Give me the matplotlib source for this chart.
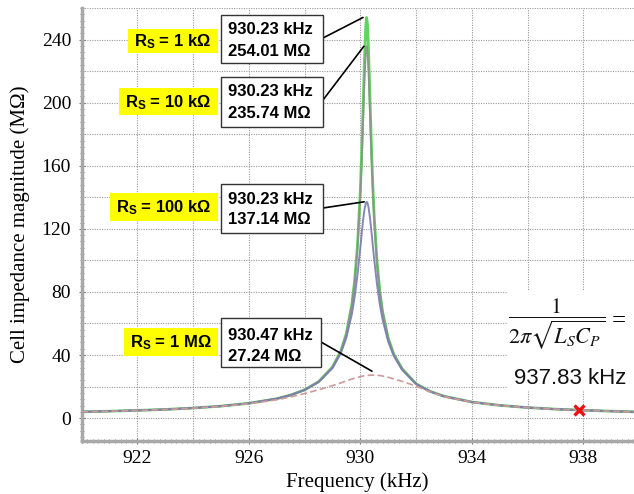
import matplotlib
matplotlib.use("Agg")
import matplotlib.pyplot as plt
from matplotlib.patches import Rectangle
from matplotlib.ticker import MultipleLocator

# ---------------- data ----------------
freq_khz = [920, 921, 922, 923, 924, 925, 926, 927, 927.5, 928, 928.5, 929, 929.3, 929.5,
            929.7, 929.8, 929.9, 930.0, 930.05, 930.1, 930.15, 930.2, 930.23, 930.26, 930.3,
            930.35, 930.4, 930.45, 930.5, 930.6, 930.7, 930.8, 931.0, 931.2, 931.5, 932,
            932.5, 933, 934, 935, 936, 937, 938, 939, 940]

z_rs_1k = [4.0, 4.4, 4.9, 5.5, 6.4, 7.6, 9.4, 12.3, 14.6, 17.9, 23.0, 32.3, 42.4, 53.6,
           72.3, 87.4, 109.4, 143.5, 167.2, 195.9, 226.5, 249.5, 254.01, 249.5, 232.1,
           202.0, 172.6, 147.8, 128.0, 99.5, 80.7, 67.6, 50.9, 40.7, 31.3, 21.8,
           17.0, 13.9, 10.2, 8.1, 6.7, 5.7, 5.0, 4.4, 3.9]

z_rs_10k = [4.0, 4.4, 4.9, 5.5, 6.4, 7.6, 9.4, 12.3, 14.6, 17.9, 23.0, 32.2, 42.3, 53.4,
            71.9, 86.5, 107.8, 140.0, 161.7, 187.1, 213.2, 232.1, 235.74, 232.1, 217.9,
            192.5, 166.5, 144.0, 125.4, 98.3, 80.0, 67.3, 50.7, 40.6, 31.2, 21.8,
            17.0, 13.9, 10.2, 8.1, 6.7, 5.7, 5.0, 4.4, 3.9]

z_rs_100k = [4.0, 4.4, 4.9, 5.5, 6.4, 7.6, 9.4, 12.3, 14.6, 17.8, 22.8, 31.6, 41.0, 50.9,
             66.1, 77.0, 90.8, 107.7, 116.7, 125.2, 132.2, 136.4, 137.14, 136.4, 133.3,
             126.8, 118.5, 109.5, 100.6, 84.9, 72.3, 62.5, 48.6, 39.5, 30.7, 21.6,
             16.9, 13.8, 10.2, 8.1, 6.7, 5.7, 5.0, 4.4, 3.9]

z_rs_1M = [3.95, 4.35, 4.85, 5.45, 6.3, 7.45, 9.1, 11.6, 13.4, 15.6, 17.9, 20.6, 22.3, 23.6,
           24.8, 25.3, 25.8, 26.3, 26.5, 26.7, 26.85, 27.0, 27.05, 27.1, 27.15,
           27.2, 27.23, 27.24, 27.23, 27.15, 27.0, 26.7, 25.9, 24.9, 23.3, 20.3,
           16.6, 13.6, 10.1, 8.05, 6.65, 5.65, 4.95, 4.35, 3.85]

series_labels = ["1 kΩ", "10 kΩ", "100 kΩ", "1 MΩ"]
peak_freq = [930.23, 930.23, 930.23, 930.47]
peak_z = [254.01, 235.74, 137.14, 27.24]

marker_f = 937.83
marker_z = 5.0

x_ticks = [922, 926, 930, 934, 938]
y_ticks = [0, 40, 80, 120, 160, 200, 240]

# ---------------- figure ----------------
W, H = 634, 494
fig = plt.figure(figsize=(W / 100, H / 100), dpi=100)
ax_l, ax_r, ax_t, ax_b = 81.5, 634, 8, 441
ax = fig.add_axes([ax_l / W, 1 - ax_b / H, (ax_r - ax_l) / W, (ax_b - ax_t) / H])

def fx(x):
    return x / W

def fy(y):
    return 1 - y / H

ax.set_xlim(920, 939.82)
ax.set_ylim(-14.5, 260)

# grid (dotted)
grid_kw = dict(color="#9a9a9a", lw=0.8, ls=(0, (1, 1.2)), zorder=0)
for gx in range(922, 941, 2):
    ax.axvline(gx, **grid_kw)
for gy in range(0, 261, 20):
    ax.axhline(gy, **grid_kw)

# curves
ax.plot(freq_khz, z_rs_1k, color="#5fd45f", lw=2.0, zorder=3)
ax.plot(freq_khz, z_rs_10k, color="#8f8f8f", lw=1.3, alpha=0.9, zorder=4)
ax.plot(freq_khz, z_rs_100k, color="#7b7bb0", lw=1.4, alpha=0.9, zorder=5)
ax.plot(freq_khz, z_rs_1M, color="#d09a9a", lw=1.2, ls=(0, (4, 2)), zorder=6)

# red x marker
ax.plot([marker_f], [marker_z], marker="x", color="#ee1111", ms=7, mew=2.4, ls="none", zorder=8)

# axes style
for s in ["top", "right"]:
    ax.spines[s].set_visible(False)
for s in ["left", "bottom"]:
    ax.spines[s].set_color("#a8a8a8")
    ax.spines[s].set_linewidth(2.5)

ax.set_xticks(x_ticks)
ax.set_yticks(y_ticks)
ax.xaxis.set_minor_locator(MultipleLocator(0.2))
ax.yaxis.set_minor_locator(MultipleLocator(4))
ax.tick_params(axis="both", which="major", direction="inout", length=5, width=0.8,
               color="#777777", labelsize=14)
ax.tick_params(axis="both", which="minor", direction="inout", length=3, width=0.6,
               color="#777777")
ax.tick_params(axis="x", which="major", pad=4)
ax.tick_params(axis="y", which="major", pad=5)
for lab in ax.get_xticklabels() + ax.get_yticklabels():
    lab.set_family("Liberation Serif")

ax.set_xlabel("Frequency (kHz)", family="Liberation Serif", fontsize=15, labelpad=4)
ax.set_ylabel("Cell impedance magnitude (MΩ)", family="Liberation Serif", fontsize=15, labelpad=8)

# ---------------- annotation boxes ----------------
plt.rcParams["mathtext.fontset"] = "custom"
plt.rcParams["mathtext.rm"] = "Liberation Sans"
plt.rcParams["mathtext.bf"] = "Liberation Sans:bold"

boxes = [
    dict(yb=(128, 29, 218, 53), wb=(221, 15, 323, 63), ty=(30, 51), ls=(323, 38)),
    dict(yb=(119, 88, 218, 115), wb=(221, 77, 323, 127), ty=(91, 113), ls=(323, 100)),
    dict(yb=(110, 193, 218, 221), wb=(221, 184, 323, 233), ty=(199, 220), ls=(323, 208)),
    dict(yb=(124, 328, 218, 356), wb=(221, 318, 321, 367), ty=(335, 356), ls=(321, 342)),
]
leader_dx = [-0.13, -0.1, -0.09, -0.05]
leader_dy = [0, 0, 0, 2.5]

for i, b in enumerate(boxes):
    x0, y0, x1, y1 = b["yb"]
    fig.patches.append(Rectangle((fx(x0), fy(y1)), fx(x1) - fx(x0), fy(y0) - fy(y1),
                                 transform=fig.transFigure, facecolor="#ffff00",
                                 edgecolor="none", zorder=10))
    fig.text(fx((x0 + x1) / 2), fy((y0 + y1) / 2 + 1),
             r"$\mathbf{R_S}$" + " = " + series_labels[i], fontsize=12, fontweight="bold",
             family="Liberation Sans", ha="center", va="center", zorder=11,
             math_fontfamily="custom")
    x0, y0, x1, y1 = b["wb"]
    fig.patches.append(Rectangle((fx(x0), fy(y1)), fx(x1) - fx(x0), fy(y0) - fy(y1),
                                 transform=fig.transFigure, facecolor="white",
                                 edgecolor="#333333", lw=1.0, zorder=10))
    fig.text(fx(228), fy(b["ty"][0]), f"{peak_freq[i]:.2f} kHz", fontsize=12,
             fontweight="bold", family="Liberation Sans", ha="left", va="center", zorder=11)
    fig.text(fx(228), fy(b["ty"][1]), f"{peak_z[i]:.2f} MΩ", fontsize=12,
             fontweight="bold", family="Liberation Sans", ha="left", va="center", zorder=11)
    lx, ly = b["ls"]
    ax.annotate("", xy=(peak_freq[i] + leader_dx[i], peak_z[i] + leader_dy[i]), xycoords="data",
                xytext=(fx(lx), fy(ly)), textcoords="figure fraction",
                arrowprops=dict(arrowstyle="-", lw=1.2, color="black",
                                shrinkA=0, shrinkB=0), zorder=9)

# ---------------- formula ----------------
fig.patches.append(Rectangle((fx(508), fy(390)), fx(634) - fx(508), fy(290) - fy(390),
                             transform=fig.transFigure, facecolor="white",
                             edgecolor="none", zorder=10))
fig.text(fx(557), fy(324), r"$\dfrac{1}{2\pi\sqrt{L_S C_P}}$", fontsize=16,
         ha="center", va="center", math_fontfamily="stix", zorder=11, color="#111111")
fig.text(fx(619), fy(321), "=", fontsize=18, family="Liberation Serif",
         ha="center", va="center", zorder=11)
fig.text(fx(570), fy(378), "937.83 kHz", fontsize=16, family="Liberation Sans",
         ha="center", va="center", zorder=11, color="#111111")

fig.savefig("out.png", dpi=100)
